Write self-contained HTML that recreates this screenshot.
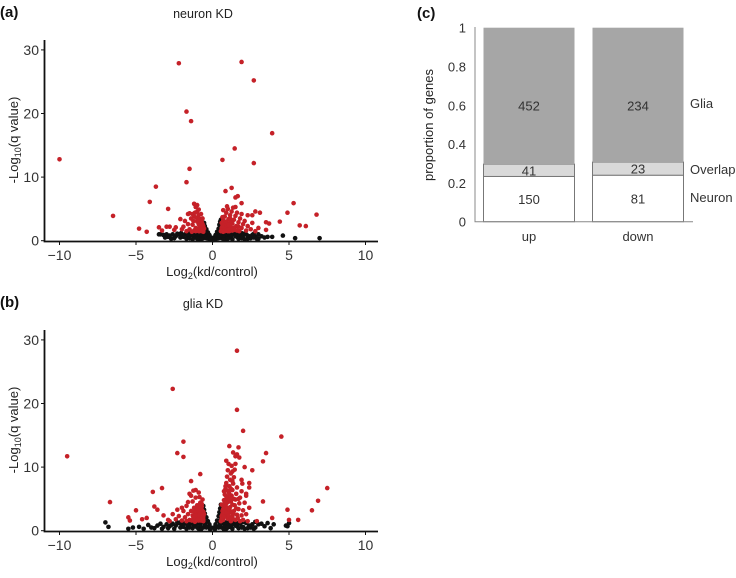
<!DOCTYPE html>
<html><head><meta charset="utf-8">
<style>
body{margin:0;background:#fff;}
svg{display:block;font-family:"Liberation Sans",Arial,sans-serif;}
</style></head>
<body>
<svg id="fig" width="736" height="578" viewBox="0 0 736 578">
<g id="pa"></g>
<g id="pb"></g>
<g id="pc"></g>
</svg>
<script>
// ---- Panel A data ----
const aRed = "-10 12.8;-6.5 3.9;-4.8 1.9;-4.3 1.4;-4.1 6.1;-3.7 8.5;-3.5 2.1;-3.3 1.6;-2.9 5;-2.8 2.2;-2.2 27.9;-1.7 20.3;-1.4 18.8;-1.5 11.3;-1.7 9.2;-1.5 4.3;-1.2 5.8;0.65 12.7;0.85 7.8;1.25 8.3;1.45 14.5;1.5 6.8;1.65 7;1.9 28.1;1.9 5.9;2.7 25.2;2.7 12.2;3.9 16.9;2.8 4.6;3.1 4.4;3.5 2.9;3.7 2.7;3.5 1.7;4.4 3;4.9 4.4;5.3 5.9;5.7 2.4;6.1 2.3;6.8 4.1;2.3 4;2.6 4;1.5 5.3;-2.1 3.4;-2.5 1.7;-3.0 2.2;-2.4 2.1;-0.6 1.4;-0.7 1.8;-0.8 2.2;-0.9 2.6;-1.0 3.0;-0.6 2.3;-0.7 2.9;-0.8 3.4;-0.9 4.0;-1.0 4.6;-1.1 5.3;-1.2 3.8;-1.3 4.2;-1.4 3.5;-1.1 2.0;-1.2 1.6;-1.3 2.5;-1.5 1.8;-1.6 2.6;-1.7 1.5;-1.9 2.2;-0.65 3.5;-0.75 4.2;-0.85 1.5;-0.95 1.9;-1.05 3.6;-1.15 4.4;-1.25 3.1;-0.55 1.9;-1.8 3.1;-2.0 1.8;-1.0 5.6;-0.9 4.9;-1.35 1.4;-0.7 2.5;-1.6 4.2;0.55 1.5;0.6 2.0;0.65 2.6;0.7 3.2;0.8 3.8;0.9 4.4;1.0 5.0;0.75 1.6;0.85 2.2;0.95 2.8;1.05 3.4;1.15 4.0;1.25 4.6;1.35 5.2;1.1 1.5;1.2 2.1;1.3 2.7;1.4 3.3;1.5 3.9;1.6 4.4;1.45 1.7;1.55 2.3;1.7 2.9;1.8 3.5;1.9 4.2;1.75 1.5;1.9 2.0;2.0 2.6;2.1 3.1;2.2 1.6;2.3 2.3;2.5 1.8;2.6 2.8;2.8 1.5;3.0 2.0;0.7 4.8;0.95 5.4;0.65 3.7;1.0 2.0;1.2 3.0;0.6 2.8;0.7 2.2;0.8 1.5;0.9 3.0;-0.75 1.6;-0.85 2.8;-0.65 2.0;-0.6 1.7;-0.7 1.5;-0.8 1.8;-0.9 1.5;-1.0 1.7;-1.1 1.5;-0.65 2.6;-0.75 3.0;-0.85 2.4;-0.95 3.3;0.6 1.6;0.7 1.4;0.8 1.9;0.9 1.6;1.0 1.5;1.1 1.8;0.65 2.3;0.75 2.7;0.85 3.0;0.95 2.4;1.05 2.5;1.15 3.5;1.3 1.6;1.4 2.0;1.6 1.6;1.7 2.2";
const aBlack = "0.05 0.1;-0.1 0.5;-0.2 0.9;-0.3 1.3;-0.4 1.8;-0.5 2.3;-0.55 2.8;0.1 0.5;0.2 0.9;0.3 1.4;0.4 1.9;0.45 2.5;0.5 3.0;0.55 3.3;-0.25 0.3;0.25 0.3;-0.35 0.7;0.35 0.8;-0.45 1.1;0.45 1.2;-0.5 1.6;0.5 1.8;0.55 2.2;-0.55 2.0;-3.4 1.0;-3.2 0.9;-3.0 1.0;-2.8 0.8;-2.6 1.0;-2.4 0.7;-2.2 1.0;-2.0 0.8;-1.8 1.0;-1.6 0.6;-1.4 0.9;-1.2 0.5;-1.0 0.9;-0.8 0.6;-0.7 1.0;-0.6 0.4;-2.9 0.6;-2.5 0.4;-2.1 0.5;-1.7 0.3;-1.3 0.2;-0.9 0.3;-3.1 0.5;-2.3 1.1;-1.5 1.1;-1.1 1.2;0.6 0.4;0.7 1.0;0.8 0.6;1.0 0.9;1.2 0.5;1.4 1.0;1.6 0.6;1.8 0.9;2.0 0.5;2.2 1.0;2.4 0.7;2.6 0.9;2.8 0.6;3.0 1.0;3.2 0.7;3.4 0.5;0.9 0.3;1.3 0.2;1.7 0.3;2.1 0.2;2.5 0.4;1.1 1.2;1.5 1.1;1.9 1.2;2.3 0.3;2.7 1.1;3.0 0.3;3.6 0.6;3.9 0.6;4.6 0.8;5.4 0.4;7.0 0.4;-3.5 1.0;-1.9 0.6;-1.5 0.4;-1.1 0.7;-0.75 0.2;0.75 0.2;1.1 0.5;1.5 0.7;1.9 0.4;2.3 0.8;2.7 0.5;-0.15 0.2;0.15 0.2;-0.4 0.4;0.4 0.4;-0.5 0.8;0.5 0.8;-0.6 1.2;0.6 1.2;-2.05 1.2;-1.65 1.0;-1.25 1.0;-0.85 1.1;0.85 1.1;1.25 0.9;1.65 1.0;2.05 1.1;-2.7 0.3;-1.0 0.3;1.0 0.3;2.9 0.3;-0.45 1.5;0.45 1.6;-0.55 2.5;0.55 2.8";
// ---- Panel B data ----
const bRed = "-9.5 11.7;-6.7 4.5;-5.5 2.1;-5.4 1.6;-5 3.2;-4.6 1.8;-4.3 2;-3.9 6.1;-3.8 3.8;-3.6 3.3;-3.3 6.7;-3.2 2.4;-2.9 1.7;-2.6 22.3;-2.3 12.2;-1.9 14;-1.9 11.6;-1.4 7.8;-1.4 5.5;-0.8 8.9;-1.1 6.4;-2.0 3.6;-1.6 4.5;1.1 13.3;1.35 12.3;1.5 11.7;1.7 13.1;1.6 19;1.6 28.3;2 15.7;1.5 10.5;2.1 10;1.3 9.3;2.6 9.5;2.4 7.5;2.4 6.8;3.3 10.9;3.5 12.2;4.5 14.8;3.3 4.6;3.9 2;4.9 3.3;5.0 1.7;5.6 1.7;6.5 3.2;6.9 4.7;7.5 6.7;2.2 5.5;1.9 8;-0.6 1.5;-0.6 2.2;-0.6 3.0;-0.7 3.8;-0.7 1.9;-0.8 2.6;-0.8 4.4;-0.9 3.3;-0.9 1.6;-1.0 2.2;-1.0 4.0;-1.1 2.9;-1.1 5.2;-1.2 1.8;-1.2 3.6;-1.3 2.4;-1.3 4.6;-1.4 3.1;-1.5 1.7;-1.5 5.8;-1.6 2.6;-1.7 1.5;-1.7 3.9;-1.8 2.1;-1.9 3.1;-2.0 1.6;-2.2 2.3;-2.4 1.8;-2.6 2.6;-2.8 1.5;-0.65 4.9;-0.75 3.2;-0.85 5.3;-0.95 2.8;-1.05 3.6;-1.25 6.3;-0.55 2.6;-0.9 6.0;-1.15 1.4;-2.3 3.3;-0.7 2.6;-0.65 1.8;-0.75 4.4;-0.85 2.1;-0.95 3.9;0.55 1.5;0.6 2.3;0.65 3.1;0.7 3.9;0.75 4.8;0.8 5.7;0.85 6.6;0.9 7.5;0.95 8.5;1.0 9.5;1.05 10.5;0.7 1.7;0.8 2.5;0.85 3.4;0.9 4.3;1.0 5.2;1.05 6.1;1.1 7.0;1.15 8.0;1.2 9.0;1.0 1.9;1.1 2.8;1.15 3.7;1.2 4.6;1.25 5.5;1.3 6.4;1.35 7.4;1.4 8.4;1.2 1.5;1.3 2.2;1.4 3.1;1.45 4.0;1.5 4.9;1.55 5.8;1.6 6.8;1.5 1.7;1.6 2.5;1.7 3.4;1.75 4.3;1.8 5.2;1.9 6.2;1.8 1.5;1.9 2.4;2.0 3.2;2.1 4.4;2.0 1.7;2.2 2.6;2.3 1.5;2.4 3.6;2.2 5.8;1.95 7.4;0.6 4.1;0.75 6.2;1.25 10.2;1.45 9.6;1.75 11.5;1.6 12.0;0.9 11.0;2.9 1.5;0.65 2.0;0.7 2.9;0.8 3.6;0.9 2.2;0.95 5.0;1.0 3.0;-0.6 1.8;-0.65 2.5;-0.7 3.3;-0.75 1.6;-0.8 2.0;-0.85 3.0;-0.9 2.5;-0.95 1.8;-1.0 3.2;-1.05 1.6;-1.1 2.4;-1.2 3.0;-1.25 2.0;-1.35 1.6;-0.7 4.2;-0.8 3.9;0.6 1.9;0.65 2.6;0.7 3.4;0.75 2.2;0.8 3.0;0.85 4.0;0.9 2.8;0.95 3.6;1.0 4.5;1.05 2.4;1.1 3.3;1.15 4.9;1.2 2.0;1.25 3.0;1.3 4.1;1.35 1.8;1.4 5.0;0.8 4.4;0.9 5.4;1.0 6.3;0.85 7.0;1.1 5.8;1.2 6.6;1.3 7.8;1.35 2.6;1.55 3.5;1.65 2.0;1.7 5.0";
const bBlack = "-0.1 0.5;-0.2 1.0;-0.3 1.5;-0.4 2.1;-0.5 2.7;-0.55 3.3;-0.6 3.9;0.1 0.5;0.2 1.0;0.3 1.6;0.4 2.3;0.45 2.9;0.5 3.5;0.55 4.1;-0.3 0.6;0.3 0.6;-0.45 1.3;0.45 1.4;-0.55 1.9;0.55 2.0;-0.6 2.5;0.6 2.6;-7 1.3;-6.8 0.6;-5.5 0.3;-5.2 0.5;-4.8 0.6;-4.5 0.3;-4 0.5;3.2 1.1;3.6 1.2;4 1;4.8 0.8;5 1.2;4.9 0.7;2.8 1.4;3.8 0.4;-3.6 0.8;-3.4 1.1;-3.2 0.6;-3.0 1.0;-2.8 0.7;-2.6 1.1;-2.4 0.8;-2.2 1.2;-2.0 0.9;-1.8 1.2;-1.6 0.8;-1.4 1.1;-1.2 0.7;-1.0 1.2;-0.8 0.8;-0.7 1.3;-0.6 0.5;-2.9 0.4;-2.5 0.3;-2.1 0.5;-1.7 0.3;-1.3 0.4;-0.9 0.3;-3.8 0.4;-4.2 0.9;-2.3 1.3;-1.5 1.3;-1.1 1.4;0.6 0.5;0.7 1.2;0.8 0.7;1.0 1.1;1.2 0.6;1.4 1.2;1.6 0.7;1.8 1.1;2.0 0.6;2.2 1.2;2.4 0.8;2.6 1.0;2.8 0.5;3.0 1.0;0.9 0.3;1.3 0.3;1.7 0.4;2.1 0.3;2.5 0.5;1.1 1.4;1.5 1.4;1.9 1.3;2.3 0.4;-1.9 0.6;-1.5 0.5;-1.1 0.9;-0.75 0.2;0.75 0.2;1.1 0.6;1.5 0.8;1.9 0.5;-0.15 0.2;0.15 0.2;-0.4 0.5;0.4 0.5;-0.5 1.0;0.5 1.0;-0.6 1.4;0.6 1.4;-0.65 3.0;0.6 3.2;-2.05 1.4;-1.65 1.0;-1.25 1.1;-0.85 1.3;0.85 1.3;1.25 1.0;1.65 1.2;2.05 1.4;-2.7 0.9;-1.0 0.5;1.0 0.5;2.7 0.3;-3.3 0.3;3.4 0.7";
// ---- Panel C data ----
const cCats = ["up","down"];
const cNeuron = [150, 81];
const cOverlap = [41, 23];
const cGlia = [452, 234];
const cTicks = [0,0.2,0.4,0.6,0.8,1];
const vTicksX = [-10,-5,0,5,10];
const vTicksY = [0,10,20,30];

const NS="http://www.w3.org/2000/svg";
function mk(parent, tag, attrs, text){
  const e=document.createElementNS(NS,tag);
  for(const k in attrs) e.setAttribute(k,attrs[k]);
  if(text!==undefined) e.textContent=text;
  parent.appendChild(e); return e;
}
function parse(s){return s.split(";").map(p=>p.trim().split(/\s+/).map(Number));}

function volcano(g, oy, label, title, red, black){
  const xs=v=>212.5+v*15.3;
  const ys=v=>oy+240.7-v*6.36;
  const t1=mk(g,"text",{x:0,y:oy+17,"font-size":15,"font-weight":"bold",fill:"#111"},label);
  
  
  const t2=mk(g,"text",{x:203,y:oy+18,"font-size":12.5,"text-anchor":"middle",fill:"#222"},title);
  
  
  const pts=mk(g,"g",{});
  
  
  parse(black).forEach(([x,y])=>{
    const c=mk(pts,"circle",{cx:xs(x),cy:ys(y),r:2.3,fill:"#111"});
    
    
  });
  parse(red).forEach(([x,y])=>{
    const c=mk(pts,"circle",{cx:xs(x),cy:ys(y),r:2.3,fill:"#c52128"});
    
    
  });
  const ax=mk(g,"path",{d:`M44.5 ${oy+40} V${oy+241.5} H378`,stroke:"#111","stroke-width":1.8,fill:"none"});
  
  
  vTicksY.forEach(v=>{
    mk(g,"line",{x1:41,x2:44.5,y1:ys(v),y2:ys(v),stroke:"#111","stroke-width":1});
    const t=mk(g,"text",{x:39,y:ys(v)+5,"font-size":14,"text-anchor":"end",fill:"#333"},v);
    
    
  });
  vTicksX.forEach(v=>{
    mk(g,"line",{x1:xs(v),x2:xs(v),y1:oy+241.5,y2:oy+245,stroke:"#111","stroke-width":1});
    const t=mk(g,"text",{x:xs(v),y:oy+260,"font-size":14,"text-anchor":"middle",fill:"#333"},v===0?"0":(v<0?"\u2212"+(-v):v));
    
    
  });
  const xt=mk(g,"text",{x:212,y:oy+276,"font-size":13,"text-anchor":"middle",fill:"#222"});
  xt.innerHTML='Log<tspan font-size="9" dy="3">2</tspan><tspan dy="-3">(kd/control)</tspan>';
  
  
  const yt=mk(g,"text",{transform:`translate(18,${oy+140}) rotate(-90)`,"font-size":13,"text-anchor":"middle",fill:"#222"});
  yt.innerHTML='-Log<tspan font-size="9" dy="3">10</tspan><tspan dy="-3">(q value)</tspan>';
  
  
}
volcano(document.getElementById("pa"),0,"(a)","neuron KD",aRed,aBlack);
volcano(document.getElementById("pb"),290,"(b)","glia KD",bRed,bBlack);

(function(){
  const g=document.getElementById("pc");
  const ys=v=>221.7-v*194;
  const bx=[483.5,592.5], bw=91;
  const l=mk(g,"text",{x:417,y:18,"font-size":15,"font-weight":"bold",fill:"#111"},"(c)");
  
  
  cTicks.forEach(v=>{
    const t=mk(g,"text",{x:466,y:ys(v)+5,"font-size":13,"text-anchor":"end",fill:"#333"},v===0?"0":(v===1?"1":v.toFixed(1)));
    
    
  });
  const yt=mk(g,"text",{transform:"translate(433,125) rotate(-90)","font-size":13,"text-anchor":"middle",fill:"#222"},"proportion of genes");
  
  
  cCats.forEach((c,i)=>{
    const tot=cNeuron[i]+cOverlap[i]+cGlia[i];
    const n=cNeuron[i]/tot, o=cOverlap[i]/tot;
    const segs=[[0,n,"#ffffff",cNeuron[i],"neuron"],[n,n+o,"#d9d9d9",cOverlap[i],"overlap"],[n+o,1,"#a6a6a6",cGlia[i],"glia"]];
    segs.forEach(([a,b,f,val,nm])=>{
      const r=mk(g,"rect",{x:bx[i],y:ys(b),width:bw,height:ys(a)-ys(b),fill:f,stroke:nm==="glia"?"none":"#777","stroke-width":1});
      
      
      const ty = nm==="glia" ? ys(0.6)+5 : (ys(a)+ys(b))/2+5;
      const t=mk(g,"text",{x:bx[i]+bw/2,y:ty,"font-size":13,"text-anchor":"middle",fill:"#333"},val);
      
      
    });
    const xl=mk(g,"text",{x:bx[i]+bw/2,y:241,"font-size":13,"text-anchor":"middle",fill:"#333"},c);
    
    
  });
  const ax=mk(g,"path",{d:"M475 27 V221.7 H693",stroke:"#888","stroke-width":1,fill:"none"});
  
  
  [["Glia",108],["Overlap",174],["Neuron",202]].forEach(([t,y])=>{
    const e=mk(g,"text",{x:690,y:y,"font-size":13,fill:"#333"},t);
    
    
  });
})();
</script>
</body></html>
